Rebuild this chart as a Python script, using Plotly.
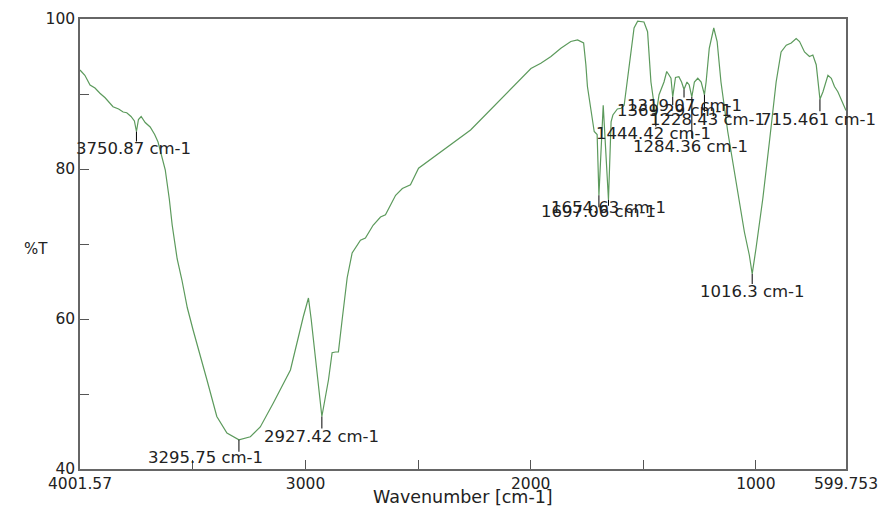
import plotly.graph_objects as go

# ---- data ----
wavenumber = [4001.57, 3980, 3957, 3935, 3913, 3890, 3855, 3830, 3810, 3794, 3775, 3760,
              3750.87, 3742, 3730, 3712, 3690, 3670, 3655, 3635, 3623, 3605, 3592, 3570,
              3549, 3525, 3499, 3438, 3394, 3349, 3295.75, 3245, 3201, 3143, 3067, 3010,
              2987, 2975, 2927.42, 2898, 2882, 2867, 2854, 2837, 2815, 2793, 2756, 2734,
              2700, 2667, 2645, 2600, 2570, 2534, 2498, 2267, 1999, 1955, 1910, 1866,
              1822, 1792, 1765, 1755, 1748, 1733, 1718, 1705, 1697.06, 1678, 1654.63,
              1643, 1635, 1615, 1598, 1585, 1563, 1541, 1525, 1497, 1481, 1466, 1444.42,
              1430, 1408, 1396, 1385, 1377, 1369.29, 1357, 1342, 1330, 1319.07, 1306,
              1296, 1284.36, 1273, 1258, 1243, 1228.43, 1221, 1207, 1187, 1172, 1155,
              1125, 1088, 1051, 1029, 1016.3, 999, 969, 940, 910, 888, 865, 843, 821,
              806, 784, 762, 747, 732, 715.461, 702, 680, 665, 651, 636, 599.753]
transmittance = [93.2, 92.5, 91.2, 90.8, 90.1, 89.5, 88.3, 88.0, 87.6, 87.5, 87.0, 86.4,
                 85.0, 86.6, 87.0, 86.2, 85.6, 84.6, 83.6, 81.5, 79.9, 76.0, 72.5, 68.0,
                 65.2, 61.5, 58.5, 51.9, 47.0, 44.8, 43.9, 44.3, 45.6, 48.8, 53.2, 60.3,
                 62.8, 60.0, 47.0, 51.9, 55.5, 55.6, 55.6, 60.0, 65.5, 68.8, 70.5, 70.8,
                 72.5, 73.6, 73.9, 76.5, 77.4, 77.9, 80.1, 85.2, 93.4, 94.1, 95.0, 96.1,
                 97.0, 97.2, 96.8, 93.9, 91.0, 88.0, 85.0, 84.6, 76.5, 88.5, 75.9,
                 86.3, 87.2, 88.0, 88.1, 88.5, 93.9, 98.8, 99.7, 99.6, 98.3, 91.6, 87.0,
                 89.9, 91.6, 93.0, 92.5, 92.1, 89.6, 92.2, 92.3, 91.6, 90.6, 91.6,
                 91.2, 89.6, 91.6, 92.1, 91.6, 89.9, 91.6, 96.1, 98.8, 97.0, 91.6,
                 85.0, 78.3, 71.6, 68.5, 66.0, 69.5, 76.1, 83.6, 91.6, 95.6, 96.5, 96.8, 97.4,
                 97.0, 95.6, 95.0, 95.2, 93.9, 89.3, 90.3, 92.5, 92.1, 91.0, 90.3, 87.8]

peak_wavenumbers = [3750.87, 3295.75, 2927.42, 1697.06, 1654.63, 1444.42,
                    1369.29, 1319.07, 1284.36, 1228.43, 1016.3, 715.461]
peak_labels = ["3750.87 cm-1", "3295.75 cm-1", "2927.42 cm-1", "1697.06 cm-1",
               "1654.63 cm-1", "1444.42 cm-1", "1369.29 cm-1", "1319.07 cm-1",
               "1284.36 cm-1", "1228.43 cm-1", "1016.3 cm-1", "715.461 cm-1"]

x_tick_values = [4001.57, 3500, 3000, 2500, 2000, 1500, 1000, 599.753]
x_tick_text = ["4001.57", "", "3000", "", "2000", "", "1000", "599.753"]
y_tick_values = [40, 50, 60, 70, 80, 90, 100]
y_tick_text = ["40", "", "60", "", "80", "", "100"]

# ---- style: label offsets (pixels) and marker lengths ----
label_dx = [-3, -33, 0, 0, 0, -2, 2, 0, -1, 3, 0, -1]
label_dy = [17, 18, 20, 16, 8, 17, 13, 16, 49, 25, 17, 20]
marker_len = [10, 12, 12, 12, 6, 10, 8, 8, 41, 17, 10, 12]

FONT = "DejaVu Sans"
fig = go.Figure()
fig.add_trace(go.Scatter(x=wavenumber, y=transmittance, mode="lines",
                         line=dict(color="#5c9a5c", width=1.2), hoverinfo="skip",
                         showlegend=False))

for i, (pw, lab) in enumerate(zip(peak_wavenumbers, peak_labels)):
    pt = transmittance[wavenumber.index(pw)]
    fig.add_shape(type="line", xref="x", yref="y", ysizemode="pixel", yanchor=pt,
                  x0=pw, x1=pw, y0=0, y1=-marker_len[i],
                  line=dict(color="black", width=1))
    fig.add_annotation(x=pw, y=pt, text=lab, showarrow=False, xanchor="center",
                       yanchor="middle", xshift=label_dx[i], yshift=-label_dy[i],
                       font=dict(family=FONT, size=16.5, color="#222"))

fig.add_annotation(xref="paper", yref="paper", x=-0.076, y=0.489, text="%T",
                   showarrow=False, font=dict(family=FONT, size=15, color="#222"))
fig.add_annotation(xref="paper", yref="paper", x=0.5, y=-0.062, text="Wavenumber [cm-1]",
                   showarrow=False, yanchor="middle",
                   font=dict(family=FONT, size=17.5, color="#222"))

axis_common = dict(showgrid=False, zeroline=False, showline=True, mirror=True,
                   linecolor="#666", linewidth=1.5, ticks="inside", ticklen=9,
                   tickcolor="#555", tickwidth=1, automargin=False,
                   tickfont=dict(family=FONT, size=15.5, color="#222"))
fig.update_xaxes(range=[4001.57, 599.753], tickmode="array", tickvals=x_tick_values,
                 ticktext=x_tick_text, **axis_common)
fig.update_yaxes(range=[40, 100], tickmode="array", tickvals=y_tick_values,
                 ticktext=y_tick_text, **axis_common)

fig.update_layout(width=880, height=511, margin=dict(l=80, r=34, t=19, b=42),
                  paper_bgcolor="white", plot_bgcolor="white")
# remove the page's default body margin so the figure fills the window exactly
fig.write_html("out.html", config={"displayModeBar": False},
               post_script="document.body.style.margin='0';document.body.style.overflow='hidden';")
